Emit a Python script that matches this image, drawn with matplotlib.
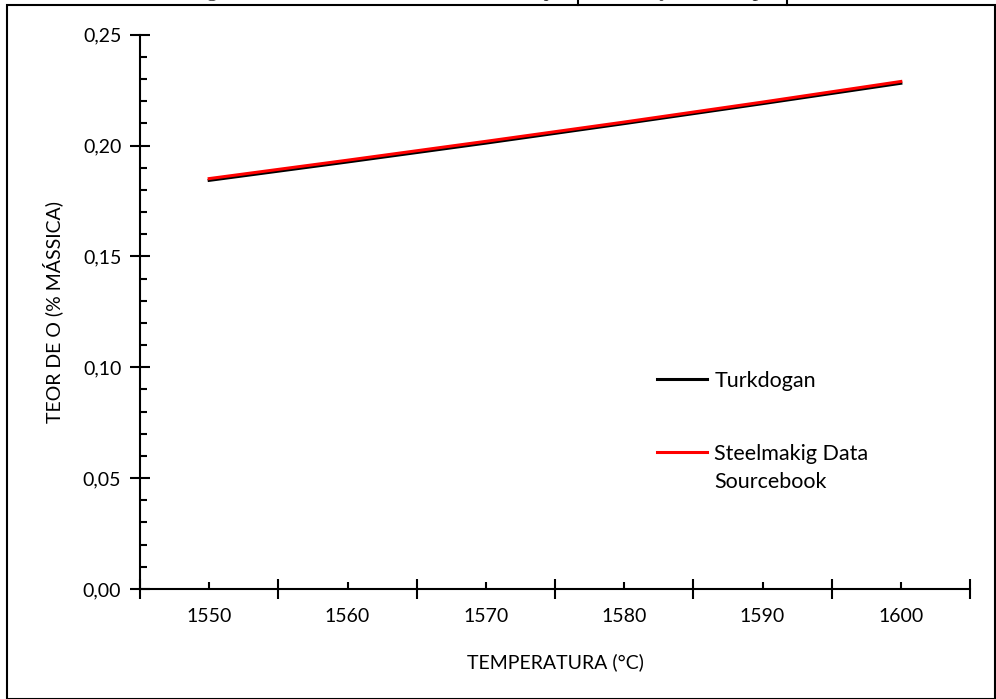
import matplotlib
matplotlib.use("Agg")
import matplotlib.pyplot as plt
from matplotlib.ticker import FixedLocator, FuncFormatter, MultipleLocator
from matplotlib.patches import Rectangle
from matplotlib.lines import Line2D

# Data
temperatures = [1550, 1560, 1570, 1580, 1590, 1600]
turkdogan = [0.1843, 0.1926, 0.2011, 0.2099, 0.2189, 0.2281]
steelmaking = [0.1851, 0.1934, 0.2019, 0.2106, 0.2196, 0.2289]

plt.rcParams['font.family'] = ['Lato', 'DejaVu Sans']
fs = 14

fig = plt.figure(figsize=(9.96, 6.99), dpi=100)
ax = fig.add_axes([140 / 996, 1 - 589 / 699, 830 / 996, (589 - 34.7) / 699])

# category axis like Excel: one slot per temperature
pos = list(range(len(temperatures)))
ax.plot(pos, turkdogan, color='black', lw=2.2, label='Turkdogan')
ax.plot(pos, steelmaking, color='#ff0000', lw=2.2, label='Steelmakig Data\nSourcebook')

ax.set_xlim(-0.5, len(temperatures) - 0.5)
ax.set_ylim(0, 0.25)

for s in ['top', 'right']:
    ax.spines[s].set_visible(False)
for s in ['left', 'bottom']:
    ax.spines[s].set_linewidth(1.5)

# x: major ticks at category boundaries, labels at centres
ax.xaxis.set_major_locator(FixedLocator([p - 0.5 for p in pos] + [pos[-1] + 0.5]))
ax.xaxis.set_minor_locator(FixedLocator(pos))
ax.xaxis.set_major_formatter(FuncFormatter(lambda v, p: ''))
ax.xaxis.set_minor_formatter(FuncFormatter(lambda v, p: str(temperatures[int(round(v))])))
ax.tick_params(axis='x', which='major', direction='inout', length=15, width=1.5)
ax.tick_params(axis='x', which='minor', direction='in', length=5, width=1.5,
               labelsize=fs, pad=14)

# y: comma decimals
ax.yaxis.set_major_locator(MultipleLocator(0.05))
ax.yaxis.set_minor_locator(MultipleLocator(0.01))
ax.yaxis.set_major_formatter(FuncFormatter(lambda v, p: f"{v:.2f}".replace('.', ',')))
ax.tick_params(axis='y', which='major', direction='inout', length=15, width=1.5,
               labelsize=fs, pad=6)
ax.tick_params(axis='y', which='minor', direction='in', length=5, width=1.5)

ax.set_xlabel('TEMPERATURA (°C)', fontsize=fs, labelpad=20)
ax.set_ylabel('TEOR DE O (% MÁSSICA)', fontsize=fs, labelpad=14)

leg = ax.legend(loc='upper left', bbox_to_anchor=(0.6, 0.429), frameon=False,
                fontsize=15.5, handlelength=2.3, handletextpad=0.35, labelspacing=2.5)
leg.get_texts()[1].set_linespacing(1.5)
# align the red handle with the first line of its two-line label
rows = leg._legend_handle_box.get_children()[0].get_children()
rows[1].align = 'top'

# outer frame of the figure box and the clipped caption above it
fig.add_artist(Rectangle((7 / 996, 0), 988 / 996, 1 - 5 / 699, transform=fig.transFigure,
                         fill=False, edgecolor='black', lw=1.5))
fig.text(0.509, 1 + 4 / 699, 'Figura 3 - Solubilidade do O no ferro líquido em função da temperatura',
         family='Liberation Serif', fontsize=16, ha='center', va='baseline', color='#333333')
for xv in (578, 787):
    fig.add_artist(Line2D([xv / 996, xv / 996], [1 - 5 / 699, 1], transform=fig.transFigure,
                          color='black', lw=1.5))

fig.savefig('out.png', dpi=100)
